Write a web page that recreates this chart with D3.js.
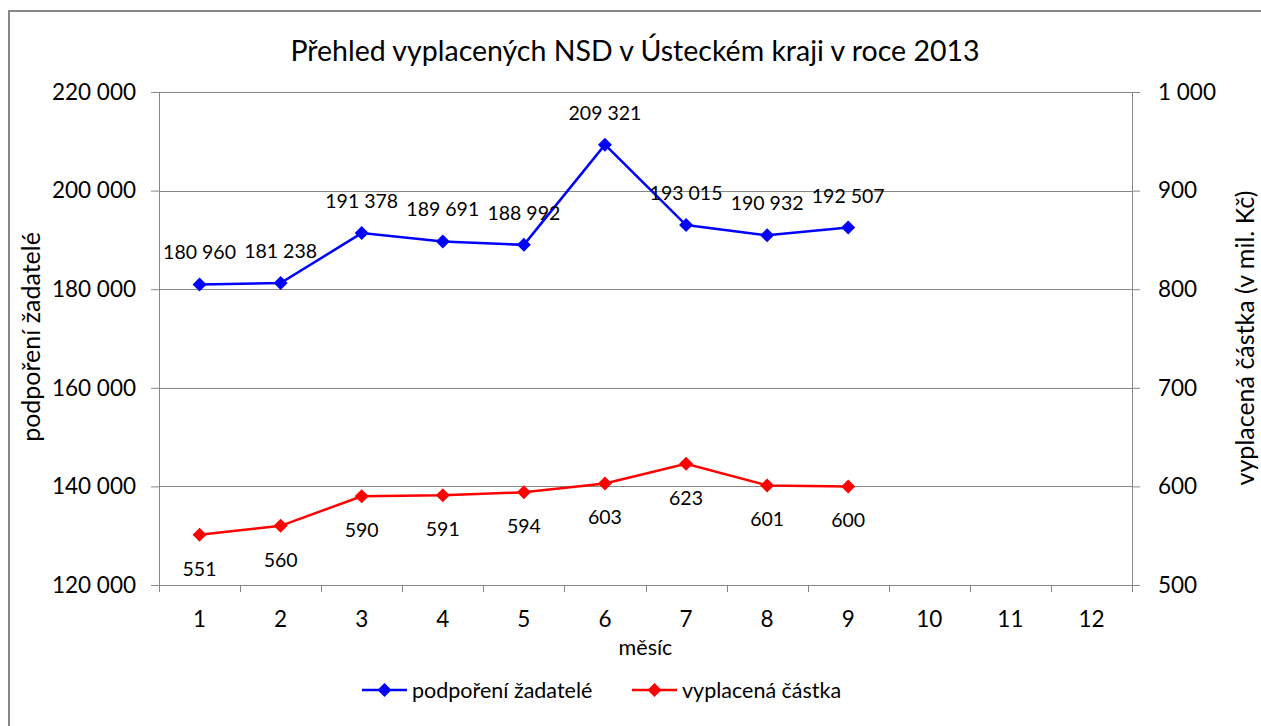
<!DOCTYPE html>
<html>
<head>
<meta charset="utf-8">
<script src="https://cdn.jsdelivr.net/npm/d3@7"></script>
<style>
  body { margin: 0; background: #fff; }
  svg text { font-family: Lato, "Open Sans", sans-serif; fill: #000; }
</style>
</head>
<body>
<svg id="chart" width="1261" height="726"></svg>
<script>
// Chart data
var months = ['1', '2', '3', '4', '5', '6', '7', '8', '9', '10', '11', '12'];
var applicants = [180960, 181238, 191378, 189691, 188992, 209321, 193015, 190932, 192507];
var paidAmount = [551, 560, 590, 591, 594, 603, 623, 601, 600];
var leftTicks = [120000, 140000, 160000, 180000, 200000, 220000];
var rightTicks = [500, 600, 700, 800, 900, 1000];
var seriesNames = ['podpoření žadatelé', 'vyplacená částka'];
var titleText = 'Přehled vyplacených NSD v Ústeckém kraji v roce 2013';

var margin = {top: 92, right: 129, bottom: 141, left: 159};
var width = 1261, height = 726;
var innerW = width - margin.left - margin.right;
var innerH = height - margin.top - margin.bottom;
var gridColor = '#888888';

var fmtThin = function(v) {
  return d3.format(',')(v).replace(/,/g, ' ');
};

var svg = d3.select('svg#chart');

// Outer frame
svg.append('rect')
  .attr('x', 9).attr('y', 11)
  .attr('width', 1262).attr('height', 730)
  .attr('fill', 'none')
  .attr('stroke', '#878787')
  .attr('stroke-width', 2);

var g = svg.append('g')
  .attr('transform', 'translate(' + margin.left + ',' + margin.top + ')');

var x = d3.scaleBand().domain(months).range([0, innerW]);
var yLeft = d3.scaleLinear().domain([120000, 220000]).range([innerH, 0]);
var yRight = d3.scaleLinear().domain([500, 1000]).range([innerH, 0]);

// Gridlines
g.append('g')
  .selectAll('line')
  .data(leftTicks.slice(1))
  .enter().append('line')
  .attr('x1', 0).attr('x2', innerW)
  .attr('y1', function(d) { return Math.round(yLeft(d)) + 0.5; })
  .attr('y2', function(d) { return Math.round(yLeft(d)) + 0.5; })
  .attr('stroke', gridColor);

var leftAxis = d3.axisLeft(yLeft).tickValues(leftTicks).tickFormat(fmtThin)
  .tickSizeInner(8).tickSizeOuter(0).tickPadding(15);
var rightAxis = d3.axisRight(yRight).tickValues(rightTicks).tickFormat(fmtThin)
  .tickSizeInner(8).tickSizeOuter(0).tickPadding(18);
var bottomAxis = d3.axisBottom(x).tickSize(0).tickPadding(26);

function styleAxis(sel) {
  sel.selectAll('path, line').attr('stroke', gridColor).attr('stroke-width', 1);
  sel.selectAll('text').attr('font-size', 22.5).attr('fill', '#000');
}

g.append('g').attr('class', 'y-left').call(leftAxis).call(styleAxis);
g.append('g').attr('class', 'y-right')
  .attr('transform', 'translate(' + innerW + ',0)')
  .call(rightAxis).call(styleAxis);
var xg = g.append('g').attr('class', 'x-axis')
  .attr('transform', 'translate(0,' + innerH + ')')
  .call(bottomAxis).call(styleAxis);

// Tick marks between categories
xg.selectAll('line.sep')
  .data(months.concat(['end']))
  .enter().append('line')
  .attr('class', 'sep')
  .attr('x1', function(d, i) { return Math.round(i * x.step()) + 0.5; })
  .attr('x2', function(d, i) { return Math.round(i * x.step()) + 0.5; })
  .attr('y1', 0).attr('y2', 7)
  .attr('stroke', gridColor);

// Titles
svg.append('text')
  .attr('x', 635).attr('y', 61)
  .attr('text-anchor', 'middle')
  .attr('font-size', 28.5)
  .text(titleText);

svg.append('text')
  .attr('x', margin.left + innerW / 2).attr('y', 655)
  .attr('text-anchor', 'middle')
  .attr('font-size', 21.5)
  .text('měsíc');

svg.append('text')
  .attr('transform', 'translate(40,337) rotate(-90)')
  .attr('text-anchor', 'middle')
  .attr('font-size', 25)
  .text(seriesNames[0]);

svg.append('text')
  .attr('transform', 'translate(1254,338) rotate(-90)')
  .attr('text-anchor', 'middle')
  .attr('font-size', 25)
  .text('vyplacená částka (v mil. Kč)');

var diamond = d3.symbol().type(d3.symbolDiamond2).size(125);
var cx = function(d, i) { return x(months[i]) + x.bandwidth() / 2; };

function drawSeries(values, yScale, color, labelDy) {
  var line = d3.line()
    .x(cx)
    .y(function(d) { return yScale(d); });
  g.append('path')
    .datum(values)
    .attr('d', line)
    .attr('fill', 'none')
    .attr('stroke', color)
    .attr('stroke-width', 2.5);
  g.append('g').selectAll('path')
    .data(values)
    .enter().append('path')
    .attr('d', diamond)
    .attr('transform', function(d, i) {
      return 'translate(' + cx(d, i) + ',' + yScale(d) + ')';
    })
    .attr('fill', color);
  g.append('g').selectAll('text')
    .data(values)
    .enter().append('text')
    .attr('x', cx)
    .attr('y', function(d) { return yScale(d) + labelDy; })
    .attr('text-anchor', 'middle')
    .attr('font-size', 19.5)
    .text(fmtThin);
}

drawSeries(applicants, yLeft, '#0000ff', -25);
drawSeries(paidAmount, yRight, '#ff0000', 41);

// Legend
var legend = svg.append('g').attr('transform', 'translate(0,690)');
var legendItems = [
  {name: seriesNames[0], color: '#0000ff', x: 362},
  {name: seriesNames[1], color: '#ff0000', x: 632}
];
legendItems.forEach(function(item) {
  legend.append('line')
    .attr('x1', item.x).attr('x2', item.x + 45)
    .attr('y1', 0).attr('y2', 0)
    .attr('stroke', item.color).attr('stroke-width', 2.5);
  legend.append('path')
    .attr('d', diamond)
    .attr('transform', 'translate(' + (item.x + 22.5) + ',0)')
    .attr('fill', item.color);
  legend.append('text')
    .attr('x', item.x + 50).attr('y', 7.5)
    .attr('font-size', 21.5)
    .text(item.name);
});
</script>
</body>
</html>
